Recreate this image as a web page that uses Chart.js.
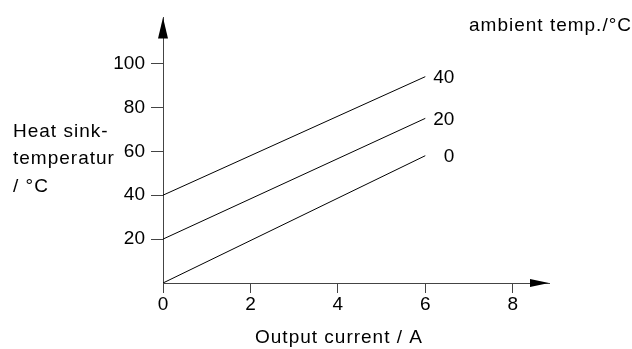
<!DOCTYPE html>
<html>
<head>
<meta charset="utf-8">
<script src="https://cdn.jsdelivr.net/npm/chart.js@4"></script>
<style>
  html, body { margin: 0; padding: 0; background: #fff; }
  #wrap { width: 632px; height: 349px; }
</style>
</head>
<body>
<div id="wrap"><canvas id="myChart"></canvas></div>
<script>
const currents = [0, 6];
const temp0 = [0, 58];
const temp20 = [20, 75];
const temp40 = [40, 94];
const ambientLabels = ["0", "20", "40"];
const xTicks = [0, 2, 4, 6, 8];
const yTicks = [20, 40, 60, 80, 100];

const FONT = "'Liberation Sans', Arial, sans-serif";
const AXIS = "#444";

const toPoints = (ys) => currents.map((x, i) => ({ x: x, y: ys[i] }));

const lineStyle = {
  borderColor: "#000",
  borderWidth: 1,
  pointRadius: 0,
  showLine: true,
  fill: false,
};

// arrows, line-end labels and free texts
const extras = {
  id: "extras",
  afterDraw(chart) {
    const c = chart.ctx;
    const a = chart.chartArea;
    c.save();
    c.fillStyle = "#000";
    // x arrow
    c.beginPath();
    c.moveTo(a.right, a.bottom);
    c.lineTo(a.right - 19, a.bottom - 4);
    c.lineTo(a.right - 19, a.bottom + 4);
    c.closePath();
    c.fill();
    // y arrow
    c.beginPath();
    c.moveTo(a.left, a.top);
    c.lineTo(a.left - 5, a.top + 21);
    c.lineTo(a.left + 5, a.top + 21);
    c.closePath();
    c.fill();

    c.font = "19px " + FONT;
    c.textBaseline = "middle";
    c.textAlign = "right";
    chart.data.datasets.forEach((ds, i) => {
      const pts = chart.getDatasetMeta(i).data;
      const last = pts[pts.length - 1];
      c.fillText(ambientLabels[i], last.x + 29, last.y + 1);
    });

    c.letterSpacing = "1px";
    c.textBaseline = "alphabetic";
    c.fillText("ambient temp./°C", 632, 31);
    c.textAlign = "center";
    c.fillText("Output current / A", 339, 343);
    c.textAlign = "left";
    c.fillText("Heat sink-", 13, 137);
    c.fillText("temperatur", 13, 164);
    c.fillText("/ °C", 13, 191.5);
    c.restore();
  },
};

const config = {
  type: "scatter",
  data: {
    datasets: [
      { label: "0", data: toPoints(temp0), ...lineStyle },
      { label: "20", data: toPoints(temp20), ...lineStyle },
      { label: "40", data: toPoints(temp40), ...lineStyle },
    ],
  },
  options: {
    responsive: true,
    maintainAspectRatio: false,
    animation: false,
    layout: { padding: { top: 17, right: 83, left: 0, bottom: 0 } },
    plugins: {
      legend: { display: false },
      tooltip: { enabled: false },
    },
    scales: {
      x: {
        type: "linear",
        min: 0,
        max: 8.83,
        afterBuildTicks: (scale) => {
          scale.ticks = xTicks.map((v) => ({ value: v }));
        },
        afterFit: (scale) => {
          scale.height = 66;
        },
        grid: { drawOnChartArea: false, tickLength: 10, color: AXIS },
        border: { color: AXIS, width: 1 },
        ticks: { color: "#000", padding: 0, font: { size: 19, family: FONT } },
      },
      y: {
        type: "linear",
        min: 0,
        max: 121,
        afterBuildTicks: (scale) => {
          scale.ticks = yTicks.map((v) => ({ value: v }));
        },
        afterFit: (scale) => {
          scale.width = 163;
        },
        grid: { drawOnChartArea: false, tickLength: 12, color: AXIS },
        border: { color: AXIS, width: 1 },
        ticks: { color: "#000", padding: 6, font: { size: 19, family: FONT } },
      },
    },
  },
  plugins: [extras],
};

new Chart(document.getElementById("myChart").getContext("2d"), config);
</script>
</body>
</html>
